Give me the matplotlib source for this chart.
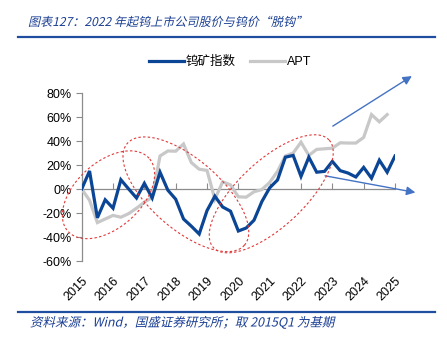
import numpy as np
import matplotlib
matplotlib.use("Agg")
import matplotlib.pyplot as plt
from matplotlib import patheffects
from matplotlib.transforms import Affine2D

# ---------------- data ----------------
years = ["2015", "2016", "2017", "2018", "2019", "2020",
         "2021", "2022", "2023", "2024", "2025"]
# quarterly, 2015Q1 = 0% base
tungsten_index = [0, 15, -24, -9, -16, 7.7, 0, -7.5, 4.7, -7.5,
                  14, -1, -8.5, -25, -31, -37.5, -18, -6, -15, -18.5,
                  -35, -32.5, -26, -10.5, 1, 7.5, 26.5, 28, 10.5, 26.5,
                  14, 14.7, 23, 15.3, 13.3, 10, 18, 9, 24, 14, 27.5]
apt = [0, -9.4, -28, -25, -22, -23.5, -20.5, -16, -11, -7,
       27.5, 31.7, 31.5, 37.5, 22, 16.5, 15.5, -8.5, 6, 3.4,
       -6.5, -6.8, -2.3, -0.5, 5.5, 14.7, 27.5, 30, 39, 28,
       33, 33.5, 34, 38.5, 38.3, 38.3, 43, 62, 56, 62]
yticks = [-60, -40, -20, 0, 20, 40, 60, 80]

series_names = ["钨矿指数", "APT"]
title = "图表127：2022 年起钨上市公司股价与钨价“脱钩”"
source = "资料来源：Wind，国盛证券研究所；取 2015Q1 为基期"

# ---------------- style ----------------
BLUE = "#0B4595"
GREY = "#C8C8C8"
AXIS = "#8C8C8C"
TXT_BLUE = "#1B3F94"
ARROW = "#4472C4"
RED = "#E03A3A"
CJK = ["Noto Sans CJK SC", "DejaVu Sans"]
LAT = ["Liberation Sans", "Noto Sans CJK SC"]


class Skew(patheffects.AbstractPathEffect):
    def __init__(self, deg=13):
        super().__init__()
        self.deg = deg

    def draw_path(self, renderer, gc, tpath, affine, rgbFace=None):
        renderer.draw_path(gc, tpath, Affine2D().skew_deg(self.deg, 0) + affine, rgbFace)


W, H = 447, 345
fig = plt.figure(figsize=(W / 100, H / 100), dpi=100)
ax_l, ax_r, ax_b, ax_t = 81.7, 395.0, 261.0, 93.0
ax = fig.add_axes([ax_l / W, 1 - ax_b / H, (ax_r - ax_l) / W, (ax_b - ax_t) / H])

x_t = np.arange(len(tungsten_index))
x_a = np.arange(len(apt))
ax.plot(x_a, apt, color=GREY, lw=2.3, label=series_names[1], zorder=3, solid_joinstyle="miter")
ax.plot(x_t, tungsten_index, color=BLUE, lw=2.3, label=series_names[0], zorder=4, solid_joinstyle="miter")

xmin, xmax = 0, 40
ymin, ymax = -60, 80
ax.set_xlim(xmin, xmax)
ax.set_ylim(ymin, ymax)

# y axis
ax.set_yticks(yticks)
ax.set_yticklabels([f"{v}%" for v in yticks], fontsize=9, family=LAT)
ax.tick_params(axis="y", direction="out", length=4, width=0.8, color=AXIS, pad=3)
for s in ["top", "right"]:
    ax.spines[s].set_visible(False)
ax.spines["left"].set_color(AXIS)
ax.spines["left"].set_linewidth(0.9)

# x axis crossing at 0
ax.spines["bottom"].set_position(("data", 0))
ax.spines["bottom"].set_color(AXIS)
ax.spines["bottom"].set_linewidth(0.9)
xt = np.arange(0, len(years) * 4, 4)
ax.set_xticks(xt)
ax.tick_params(axis="x", direction="in", length=4, width=0.8, color=AXIS, labelbottom=False)

sec = ax.secondary_xaxis("bottom")
sec.set_xticks(xt)
sec.set_xticklabels(years, rotation=45, ha="right", va="top", rotation_mode="anchor",
                    fontsize=9, family=LAT)
sec.tick_params(length=0, pad=10)
sec.spines["bottom"].set_visible(False)

# legend
leg = ax.legend(handles=[ax.lines[1], ax.lines[0]], loc="center", ncol=2,
                bbox_to_anchor=(230 / W, 1 - 62 / H), bbox_transform=fig.transFigure,
                frameon=False, handlelength=2.8, handletextpad=0.15, columnspacing=1.1,
                prop={"family": LAT, "size": 9})

# ---------------- annotations ----------------
ax_w_px = ax_r - ax_l
ax_h_px = ax_b - ax_t
px_x = ax_w_px / (xmax - xmin)
px_y = ax_h_px / (ymax - ymin)


def ellipse(cx, cy, a, b, ang):
    t = np.linspace(0, 2 * np.pi, 300)
    th = np.deg2rad(ang)
    dx = a * np.cos(t) * np.cos(th) - b * np.sin(t) * np.sin(th)
    dy = a * np.cos(t) * np.sin(th) + b * np.sin(t) * np.cos(th)
    ax.plot(cx + dx / px_x, cy + dy / px_y, color=RED, lw=0.8,
            linestyle=(0, (2.2, 2.0)), clip_on=False, zorder=5)


ellipse(3.42, -4.8, 54.6, 32.8, 42)
ellipse(13.3, -4.4, 77.6, 35.0, -41)
ellipse(24.2, -4.0, 79.0, 33.0, 43)

arrow_props = dict(arrowstyle="-|>", color=ARROW, lw=1.0, mutation_scale=13,
                   shrinkA=0, shrinkB=0)
ax.annotate("", xy=(42.15, 94.1), xytext=(32.06, 52.4), arrowprops=arrow_props,
            annotation_clip=False)
ax.annotate("", xy=(42.6, -2.9), xytext=(31.07, 11.0), arrowprops=arrow_props,
            annotation_clip=False)

# ---------------- title & source ----------------
fig.text(28 / W, 1 - 22.5 / H, title, fontsize=8.7, color=TXT_BLUE, family=CJK,
         va="center", ha="left", path_effects=[Skew(13)])
fig.add_artist(plt.Line2D([18 / W, 435 / W], [1 - 36.8 / H, 1 - 36.8 / H],
                          transform=fig.transFigure, color="#1F4EA0", lw=1.6))
fig.add_artist(plt.Line2D([18 / W, 435 / W], [1 - 312.3 / H, 1 - 312.3 / H],
                          transform=fig.transFigure, color="#1F4EA0", lw=1.6))
fig.text(30 / W, 1 - 322.5 / H, source, fontsize=9, color=TXT_BLUE, family=CJK,
         va="center", ha="left", path_effects=[Skew(13)])

fig.savefig("out.png", dpi=100)
